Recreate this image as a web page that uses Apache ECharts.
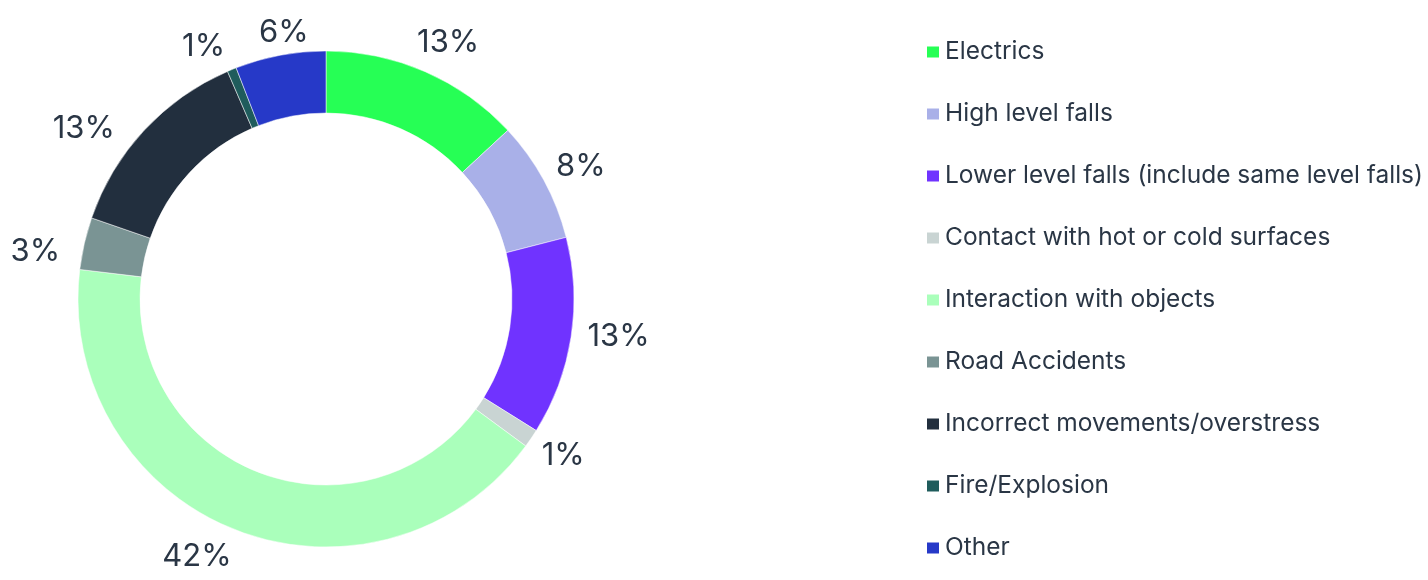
<!DOCTYPE html>
<html>
<head>
<meta charset="utf-8">
<script src="https://cdn.jsdelivr.net/npm/echarts@6/dist/echarts.min.js"></script>
<style>
  html, body { margin: 0; padding: 0; background: #fff; }
  #chart { width: 1428px; height: 580px; }
</style>
</head>
<body>
<div id="chart"></div>
<script>
const categories = [
  'Electrics',
  'High level falls',
  'Lower level falls (include same level falls)',
  'Contact with hot or cold surfaces',
  'Interaction with objects',
  'Road Accidents',
  'Incorrect movements/overstress',
  'Fire/Explosion',
  'Other'
]
const shares = [13.1, 7.9, 12.9, 1.2, 41.8, 3.4, 13.2, 0.6, 5.9]
const colors = ['#26ff55', '#a9b0e8', '#7033ff', '#c9d4d3', '#aaffbb', '#7a9494', '#222f3e', '#1f5c5c', '#2639c8']

// small nudges so the % labels sit where the original placed them
const labelNudges = [[7, 8], [2, 6], [8, -6], [-1, -5], [-23, -10], [-10, 17], [-31, 26], [-13, 14], [11, 17]]

const textColor = '#2a3645'
const font = 'Inter'

const pieData = categories.map((name, i) => ({ name, value: shares[i] }))

const chart = echarts.init(document.getElementById('chart'))

chart.setOption({
  animation: false,
  color: colors,
  legend: {
    orient: 'vertical',
    left: 925,
    top: 39,
    padding: 0,
    icon: 'rect',
    itemWidth: 14,
    itemHeight: 13,
    itemGap: 36,
    data: categories,
    textStyle: {
      fontFamily: font,
      fontSize: 24.5,
      lineHeight: 26,
      color: textColor
    }
  },
  series: [
    {
      name: 'share',
      type: 'pie',
      center: [326, 299],
      radius: [186, 248],
      startAngle: 90,
      clockwise: true,
      silent: true,
      label: { show: false },
      labelLine: { show: false },
      itemStyle: { borderColor: '#fff', borderWidth: 0.5 },
      data: pieData
    },
    {
      // transparent ring carrying the percentage labels outside the donut
      name: 'labels',
      type: 'pie',
      center: [326, 299],
      radius: [262, 308],
      startAngle: 90,
      clockwise: true,
      silent: true,
      itemStyle: { color: 'rgba(0,0,0,0)' },
      label: {
        show: true,
        position: 'inside',
        formatter: (p) => Math.round(p.value) + '%',
        fontFamily: font,
        fontSize: 31,
        color: textColor
      },
      labelLine: { show: false },
      labelLayout: (params) => ({
        dx: labelNudges[params.dataIndex][0],
        dy: labelNudges[params.dataIndex][1]
      }),
      data: pieData
    }
  ]
})
</script>
</body>
</html>
